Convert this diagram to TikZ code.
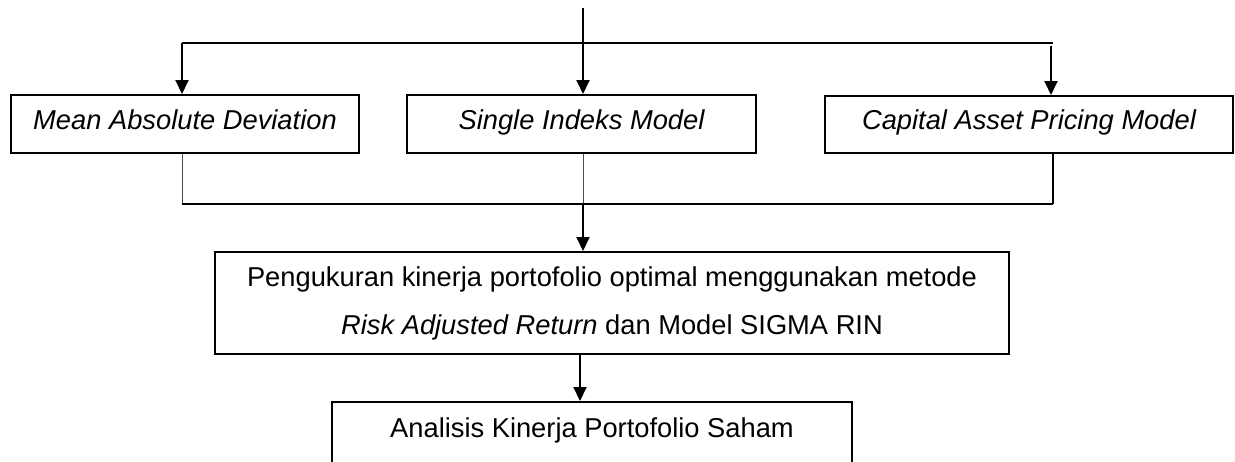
\documentclass[tikz,border=0pt]{standalone}
\usepackage{fontspec}
\setmainfont{Liberation Sans}
\usetikzlibrary{arrows.meta}
\begin{document}
\begin{tikzpicture}[x=1pt,y=-1pt,
  box/.style={draw,line width=2pt,inner sep=0pt,font=\fontsize{27.3}{48}\selectfont,align=center},
  oneline/.style={text height=20pt,text depth=10pt},
  arr/.style={line width=2pt,-{Triangle[width=13pt,length=14pt]}},
  conn/.style={line width=1.3pt},
  thinconn/.style={line width=1pt,black!70}]
\path[use as bounding box,clip] (0,0) rectangle (1235,461);
\fill[white] (0,0) rectangle (1235,461);
% boxes
\node[box,oneline,minimum width=348pt,minimum height=58pt] (b1) at (185,124) {\itshape Mean Absolute Deviation};
\node[box,oneline,minimum width=349pt,minimum height=58pt] (b2) at (581.5,124) {\itshape Single Indeks Model};
\node[box,oneline,minimum width=408pt,minimum height=57pt] (b3) at (1029,124.5) {\itshape Capital Asset Pricing Model};
\node[box,minimum width=794pt,minimum height=102pt] (b4) at (612,303) {Pengukuran kinerja portofolio optimal menggunakan metode\\{\itshape Risk Adjusted Return} dan Model SIGMA RIN};
\node[box,minimum width=520pt,anchor=north,inner ysep=15pt,text height=20pt,text depth=40pt] (b5) at (592,401) {Analisis Kinerja Portofolio Saham};
% top connectors
\coordinate (top) at (583,8);
\coordinate (hl) at (182,43);
\coordinate (hr) at (1053,43);
\coordinate (hr2) at (1051,46);
\draw[arr] (top) -- (top |- b2.north);
\draw[conn] (hl) -- (hr);
\draw[arr] (hl) -- (hl |- b1.north);
\draw[arr] (hr2) -- (hr2 |- b3.north);
% bottom connectors
\coordinate (bl) at (182,204);
\coordinate (bm) at (583,204);
\coordinate (br) at (1053,204);
\draw[thinconn] (b1.south -| bl) -- (bl);
\draw[thinconn] (b2.south -| bm) -- (bm);
\draw[conn] (b3.south -| br) -- (br);
\draw[line width=2pt] (bl) -- (br);
\draw[arr] (bm) -- (bm |- b4.north);
\coordinate (m4) at (580,354);
\draw[arr] (b4.south -| m4) -- (b5.north -| m4);
\end{tikzpicture}
\end{document}
